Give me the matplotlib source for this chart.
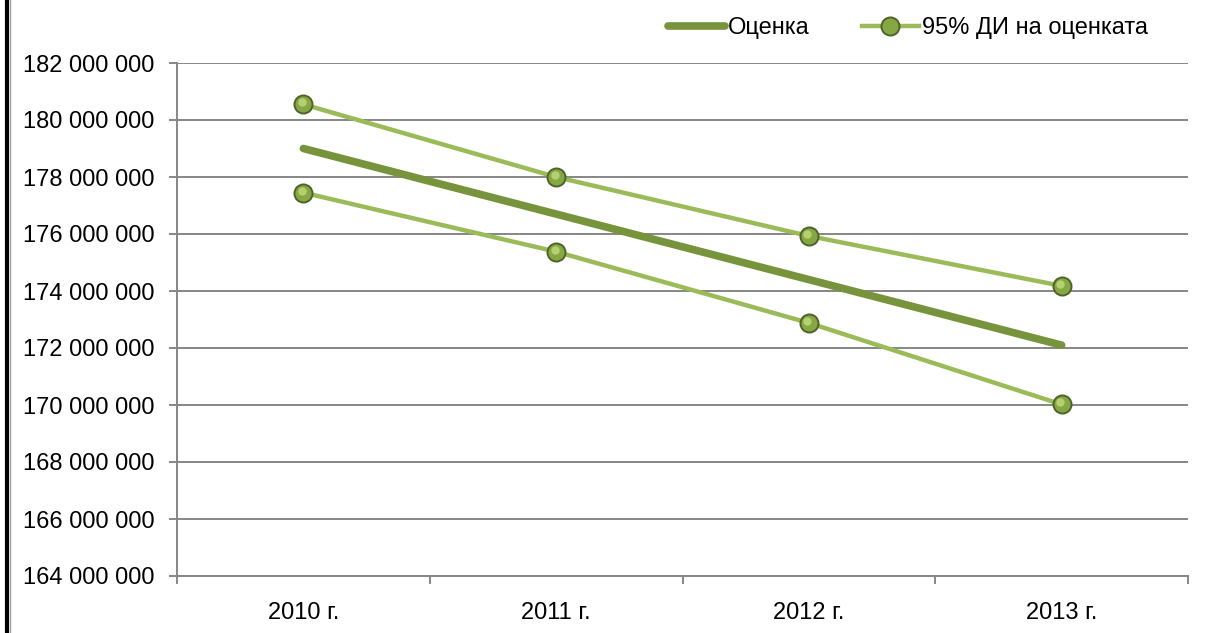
import matplotlib
matplotlib.use("Agg")
import matplotlib.pyplot as plt
from matplotlib.lines import Line2D
from matplotlib.ticker import FuncFormatter, MultipleLocator
from matplotlib.transforms import offset_copy

categories = ["2010 г.", "2011 г.", "2012 г.", "2013 г."]
estimate = [179.0e6, 176.7e6, 174.4e6, 172.1e6]
ci_upper = [180.55e6, 178.0e6, 175.93e6, 174.18e6]
ci_lower = [177.45e6, 175.38e6, 172.88e6, 170.02e6]

plt.rcParams['font.family'] = ['Liberation Sans', 'DejaVu Sans']

W, H = 1210, 633
fig = plt.figure(figsize=(W / 100, H / 100), dpi=100)
L, R, T, B = 177, 1188, 63, 576
ax = fig.add_axes([L / W, 1 - B / H, (R - L) / W, (B - T) / H])

FS = 17
x = list(range(len(categories)))
c_est = "#77933C"
c_ci = "#9BBB59"
c_mk = "#86A844"
c_edge = "#4F6228"

ax.plot(x, estimate, color=c_est, lw=5.5, solid_capstyle="round", zorder=3)
hl_tr = offset_copy(ax.transData, fig=fig, x=-1.5, y=2, units="dots")
for s in (ci_upper, ci_lower):
    ax.plot(x, s, color=c_ci, lw=3.2, marker="o", ms=13, mfc=c_mk,
            mec=c_edge, mew=1.4, zorder=4)
    ax.plot(x, s, ls="none", marker="o", ms=6, mfc="#BFD77A", mec="none",
            alpha=0.85, zorder=5, transform=hl_tr)

ax.set_xlim(-0.5, len(categories) - 0.5)
ax.set_ylim(164e6, 182e6)
ax.yaxis.set_major_locator(MultipleLocator(2e6))
ax.yaxis.set_major_formatter(FuncFormatter(lambda v, p: f"{int(round(v)):,}".replace(",", " ")))
ax.set_xticks(x)
ax.set_xticklabels(categories)
ax.set_xticks([i - 0.5 for i in range(len(categories) + 1)], minor=True)
ax.tick_params(axis="x", which="major", length=0, pad=19, labelsize=FS)
ax.tick_params(axis="x", which="minor", length=6, color="#868686", width=1.4, direction="out")
ax.tick_params(axis="y", length=6, color="#868686", width=1.4, direction="out", pad=10, labelsize=FS)

ax.grid(axis="y", color="#868686", lw=1.4)
ax.set_axisbelow(True)
for side in ("top", "right"):
    ax.spines[side].set_visible(False)
for side in ("left", "bottom"):
    ax.spines[side].set_color("#868686")
    ax.spines[side].set_linewidth(1.4)

handles = [
    Line2D([0], [0], color=c_est, lw=5.5, solid_capstyle="round"),
    Line2D([0], [0], color=c_ci, lw=3.2, marker="o", ms=13, mfc=c_mk, mec=c_edge, mew=1.4),
]
fig.legend(handles, ["Оценка", "95% ДИ на оценката"], loc="center",
           bbox_to_anchor=(908 / W, 1 - 28 / H), ncol=2, frameon=False,
           fontsize=FS, handlelength=2.4, handletextpad=0.15, columnspacing=2.2,
           borderpad=0)

# left frame edge
fig.add_artist(Line2D([6.5 / W, 6.5 / W], [0, 1], color="black", lw=3, transform=fig.transFigure))
fig.add_artist(Line2D([9.5 / W, 9.5 / W], [0, 1], color="#A0A0A0", lw=1, transform=fig.transFigure))

fig.savefig("out.png", dpi=100)
